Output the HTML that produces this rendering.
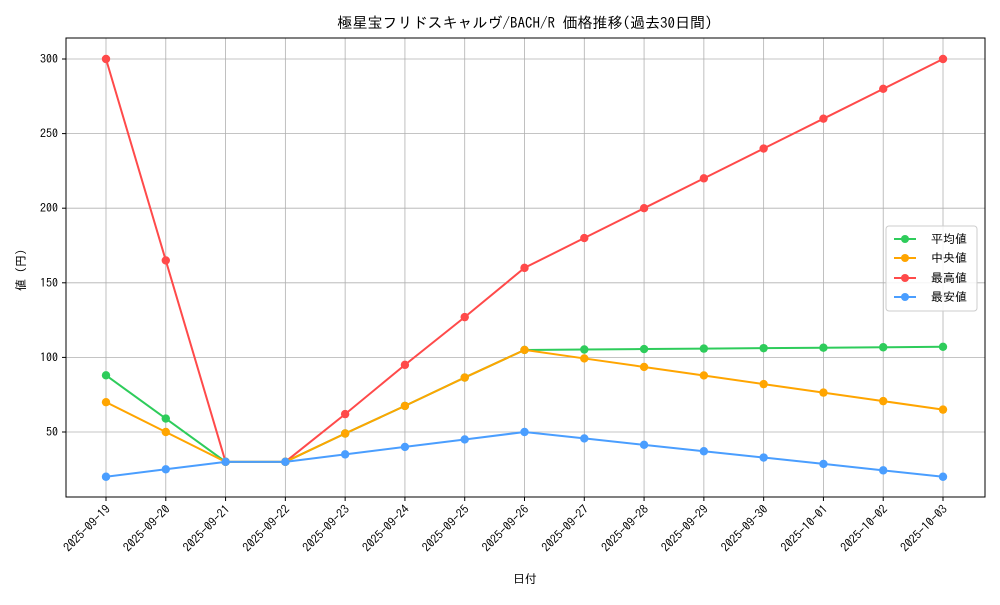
<!DOCTYPE html>
<html><head><meta charset="utf-8"><style>
body{margin:0;background:#fff}
svg text{font-family:"IPAGothic","Liberation Sans","Noto Sans CJK JP",sans-serif;fill:#000}
</style></head><body>
<svg id="s" width="1000" height="600" xmlns="http://www.w3.org/2000/svg">
<rect width="1000" height="600" fill="#fff"/>
<text x="525" y="28" font-size="15" text-anchor="middle">極星宝フリドスキャルヴ/BACH/R 価格推移(過去30日間)</text>
<g id="g"></g>
<rect x="66" y="38" width="919" height="459" fill="none" stroke="#000" stroke-width="1"/>
<text x="525" y="583" font-size="12" text-anchor="middle">日付</text>
<text transform="translate(25,270) rotate(-90)" font-size="12" text-anchor="middle">値 (円)</text>
<g transform="translate(886,226)">
<rect x="0" y="0" width="91" height="85" rx="3" fill="#fff" fill-opacity="0.85" stroke="#ccc"/>
<line x1="8" y1="13" x2="30" y2="13" stroke="#2ecc5b" stroke-width="2"/><circle cx="19" cy="13" r="4" fill="#2ecc5b"/><text x="45" y="17" font-size="12">平均値</text>
<line x1="8" y1="32" x2="30" y2="32" stroke="#ffa500" stroke-width="2"/><circle cx="19" cy="32" r="4" fill="#ffa500"/><text x="45" y="36" font-size="12">中央値</text>
<line x1="8" y1="52" x2="30" y2="52" stroke="#ff4a4a" stroke-width="2"/><circle cx="19" cy="52" r="4" fill="#ff4a4a"/><text x="45" y="56" font-size="12">最高値</text>
<line x1="8" y1="71" x2="30" y2="71" stroke="#4a9eff" stroke-width="2"/><circle cx="19" cy="71" r="4" fill="#4a9eff"/><text x="45" y="75" font-size="12">最安値</text>
</g>
</svg>
<script>
var g=document.getElementById('g'),h='';
function X(i){return 106+i*59.786}
function Y(v){return 432-(v-50)*1.492}
var dates=['2025-09-19','2025-09-20','2025-09-21','2025-09-22','2025-09-23','2025-09-24','2025-09-25','2025-09-26','2025-09-27','2025-09-28','2025-09-29','2025-09-30','2025-10-01','2025-10-02','2025-10-03'];
for(var v=50;v<=300;v+=50){var y=Y(v);h+='<line x1="66" x2="985" y1="'+y+'" y2="'+y+'" stroke="#b0b0b0" stroke-width="0.8"/><line x1="62" x2="66" y1="'+y+'" y2="'+y+'" stroke="#000"/><text x="58" y="'+(y+4)+'" font-size="12" text-anchor="end">'+v+'</text>';}
dates.forEach(function(d,i){var x=X(i);h+='<line y1="38" y2="497" x1="'+x+'" x2="'+x+'" stroke="#b0b0b0" stroke-width="0.8"/><line y1="497" y2="501" x1="'+x+'" x2="'+x+'" stroke="#000"/><text transform="translate('+(x+5)+',510) rotate(-45)" font-size="12" text-anchor="end">'+d+'</text>';});
var S=[
['#ff4a4a',[300,165,30,30,62,95,127,160,180,200,220,240,260,280,300]],
['#2ecc5b',[88,59,30,30,49,67.5,86.5,105,105.3,105.6,105.9,106.2,106.5,106.8,107.1]],
['#ffa500',[70,50,30,30,49,67.5,86.5,105,99.3,93.6,87.9,82.1,76.4,70.7,65]],
['#4a9eff',[20,25,30,30,35,40,45,50,45.7,41.4,37.1,32.9,28.6,24.3,20]]];
S.forEach(function(s){var p=s[1].map(function(v,i){return X(i)+','+Y(v)}).join(' ');h+='<polyline points="'+p+'" fill="none" stroke="'+s[0]+'" stroke-width="2"/>';s[1].forEach(function(v,i){h+='<circle cx="'+X(i)+'" cy="'+Y(v)+'" r="4.2" fill="'+s[0]+'"/>';});});
g.innerHTML=h;
</script>
</body></html>
